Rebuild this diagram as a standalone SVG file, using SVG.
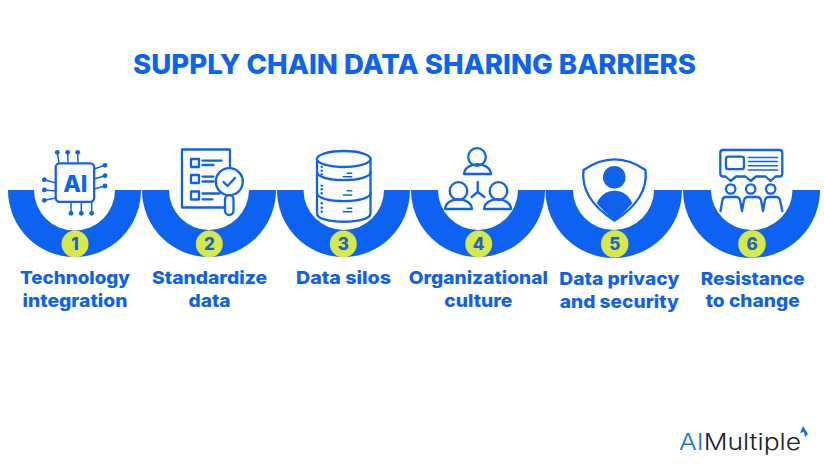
<svg xmlns="http://www.w3.org/2000/svg" width="824" height="464" viewBox="0 0 824 464">
<defs><style>
text{font-family:"Inter","Liberation Sans",sans-serif}
.t{font-size:27.5px;font-weight:800;fill:#0d62f0;text-anchor:middle}
.l{font-size:18px;font-weight:800;fill:#0f62e8;text-anchor:middle}
.n{font-size:17px;font-weight:800;fill:#1f62c0;text-anchor:middle}
.c{fill:#d6e84a}
.a{fill:#0d62f2}
.s{fill:none;stroke:#0f62ec;stroke-width:2.300;stroke-linecap:round;stroke-linejoin:round}
.f{fill:#0f62ec}
.w{fill:#fff;stroke:#0f62ec;stroke-width:2.300;stroke-linejoin:round}
</style></defs>
<rect width="824" height="464" fill="#fff"/>
<text class="t" x="414.500" y="74" textLength="563" lengthAdjust="spacingAndGlyphs">SUPPLY CHAIN DATA SHARING BARRIERS</text>
<g id="connectors"/>
<g id="node1">
<path class="a" d="M8 190H34A40.500 40.500 0 0 0 115 190H141A66.500 67 0 0 1 8 190Z"/>
<circle class="c" cx="75" cy="244" r="13.500"/><text class="n" x="75" y="250">1</text>
<path class="s" d="M59 163L57.300 152.300M68 163L67.700 152.300M78 163L77.700 152.300M94 169L105 165.300M94 179L105 175.700M94 189L105 186M56 183L44.300 179.700M56 191L44.300 190M56 198L44.300 200.300M71 202V213.300M81.300 202V213.300M91.700 202V213.300" style="stroke-width:1.500"/>
<g class="f"><circle cx="57.300" cy="152.300" r="2.400"/><circle cx="67.700" cy="152.300" r="2.400"/><circle cx="77.700" cy="152.300" r="2.400"/><circle cx="105" cy="165.300" r="2.400"/><circle cx="105" cy="175.700" r="2.400"/><circle cx="105" cy="186" r="2.400"/><circle cx="44.300" cy="179.700" r="2.400"/><circle cx="44.300" cy="190" r="2.400"/><circle cx="44.300" cy="200.300" r="2.400"/><circle cx="71" cy="213.300" r="2.400"/><circle cx="81.300" cy="213.300" r="2.400"/><circle cx="91.700" cy="213.300" r="2.400"/></g>
<rect class="w" x="55.700" y="163.300" width="38.500" height="38.500" rx="4"/>
<text x="75.300" y="191.500" text-anchor="middle" font-size="23" font-weight="800" fill="#0f62ec">AI</text>
<text class="l" x="75" y="284" textLength="110" lengthAdjust="spacingAndGlyphs">Technology</text>
<text class="l" x="75" y="306.500" textLength="105" lengthAdjust="spacingAndGlyphs">integration</text>
</g>
<g id="node2">
<path class="a" d="M142 190H169A40 40 0 0 0 249 190H276A67 67 0 0 1 142 190Z"/>
<circle class="c" cx="209.300" cy="244" r="13.500"/><text class="n" x="209.300" y="250">2</text>
<rect class="w" x="182" y="149.500" width="48" height="58" stroke-linejoin="miter"/>
<path class="s" d="M191 159h8v8h-8zM191 175h8v8h-8zM191 191.500h8v8h-8zM202.500 160.700h19M202.500 165h11M202.500 176.700h11M202.500 181.500h11M202.500 193.500h17M202.500 199.300h10"/>
<rect class="w" x="225" y="195" width="8.500" height="20" rx="4.200"/>
<circle class="w" cx="229.300" cy="181.700" r="13.500"/>
<path class="s" d="M223.500 182l4 4 7.500-8"/>
<text class="l" x="209.500" y="284" textLength="115" lengthAdjust="spacingAndGlyphs">Standardize</text>
<text class="l" x="209.500" y="306.500" textLength="42" lengthAdjust="spacingAndGlyphs">data</text>
</g>
<g id="node3">
<path class="a" d="M277 190H303.500A40.250 40 0 0 0 384 190H410A66.500 67 0 0 1 277 190Z"/>
<circle class="c" cx="343.300" cy="244" r="13.500"/><text class="n" x="343.300" y="250">3</text>
<path class="w" d="M317 159V213.500C317 224.500 370.500 224.500 370.500 213.500V159Z"/>
<path class="s" d="M317 172C317 182.700 370.500 182.700 370.500 172M317 193C317 203.700 370.500 203.700 370.500 193"/>
<ellipse class="w" cx="343.700" cy="159" rx="26.800" ry="8"/>
<path class="s" d="M343.300 176.700h8.400M347.300 173.300h4.400M343.300 195h8.400M347.300 190.700h4.400M343.300 211.700h8.400M347.300 208.300h4.400" style="stroke-width:1.600"/>
<g class="f"><circle cx="321.700" cy="166.700" r="1.200"/><circle cx="321.700" cy="170.700" r="1.200"/><circle cx="321.700" cy="174.300" r="1.200"/><circle cx="321.700" cy="185.700" r="1.200"/><circle cx="321.700" cy="189.300" r="1.200"/><circle cx="321.700" cy="193.300" r="1.200"/><circle cx="321.700" cy="203.300" r="1.200"/><circle cx="321.700" cy="207.700" r="1.200"/><circle cx="321.700" cy="211.700" r="1.200"/></g>
<text class="l" x="343.500" y="284" textLength="95" lengthAdjust="spacingAndGlyphs">Data silos</text>
</g>
<g id="node4">
<path class="a" d="M411 190H438A40 40 0 0 0 518 190H545A67 67 0 0 1 411 190Z"/>
<circle class="c" cx="478.700" cy="244" r="13.500"/><text class="n" x="478.700" y="250">4</text>
<circle class="s" cx="477" cy="157" r="8.800"/>
<path class="s" d="M464 174C465 161 490 161 491 174Z"/>
<circle class="s" cx="458.500" cy="191" r="8.800"/>
<path class="s" d="M445 209C446 196 471 196 472 209Z"/>
<circle class="s" cx="498.500" cy="191" r="8.800"/>
<path class="s" d="M484 209C485 196 510 196 511 209Z"/>
<path class="s" d="M477.700 182V192M477.700 192L471.500 197M477.700 192L484.500 197"/>
<text class="l" x="478.300" y="284" textLength="139" lengthAdjust="spacingAndGlyphs">Organizational</text>
<text class="l" x="478.300" y="306.500" textLength="68" lengthAdjust="spacingAndGlyphs">culture</text>
</g>
<g id="node5">
<path class="a" d="M545.500 190H573A40.500 40 0 0 0 654 190H682A68.250 68 0 0 1 545.500 190Z"/>
<circle class="c" cx="614.700" cy="244" r="13.800"/><text class="n" x="614.700" y="250">5</text>
<path class="w" d="M583.500 170C604 156 625 156 645.500 170C648 191 636 207 614.500 220.700C593 207 581 191 583.500 170Z"/>
<circle class="f" cx="614.300" cy="177.300" r="11.300"/>
<path class="f" d="M596.700 203.300C600 195 607 190.700 614.500 190.700C622 190.700 629 195 632.300 203.300C626.500 210 621 215.500 614.500 220C608 215.500 602.500 210 596.700 203.300Z"/>
<text class="l" x="619.300" y="285" textLength="120" lengthAdjust="spacingAndGlyphs">Data privacy</text>
<text class="l" x="619.300" y="307.500" textLength="119" lengthAdjust="spacingAndGlyphs">and security</text>
</g>
<g id="node6">
<path class="a" d="M683 190H711A40.750 40 0 0 0 792.500 190H820A68.500 68 0 0 1 683 190Z"/>
<circle class="c" cx="752" cy="244" r="13.800"/><text class="n" x="752" y="250">6</text>
<path class="s" d="M723 150H779.500Q782.300 150 782.300 153V173.500Q782.300 176.500 779.500 176.500H775.500L770.700 181L765.500 176.500H756L750.700 181L745.500 176.500H736L730.700 181L725.500 176.500H723Q720.300 176.500 720.300 173.500V153Q720.300 150 723 150Z"/>
<rect class="s" x="726" y="156.700" width="18" height="12.500" rx="2.500"/>
<path class="s" d="M748.500 157.500H777.500M748.500 161.500H777.500M748.500 165.700H777.500M748.500 170H777.500" style="stroke-width:1.600"/>
<circle class="s" cx="730.700" cy="189" r="4.700"/><circle class="s" cx="750.700" cy="189" r="4.700"/><circle class="s" cx="770.700" cy="189" r="4.700"/>
<path class="s" d="M720.500 211L722.500 200Q723 197 726 197H736Q739 197 740 200L742 211L744 200Q745 197 748 197H757Q760 197 761 200L763 211L765 200Q766 197 769 197H776Q779 197 780 200L782.300 211"/>
<text class="l" x="752.700" y="284.500" textLength="104" lengthAdjust="spacingAndGlyphs">Resistance</text>
<text class="l" x="752.700" y="307" textLength="94" lengthAdjust="spacingAndGlyphs">to change</text>
</g>
<g id="logo">
<text x="679" y="450" font-size="23" font-weight="300" textLength="122" lengthAdjust="spacingAndGlyphs"><tspan fill="#1a6fe8">AI</tspan><tspan fill="#14202e">Multiple</tspan></text>
<path d="M803 426L808 434L805 437L804 432L800 433Z" fill="#1a6fe8"/>
</g>
</svg>
